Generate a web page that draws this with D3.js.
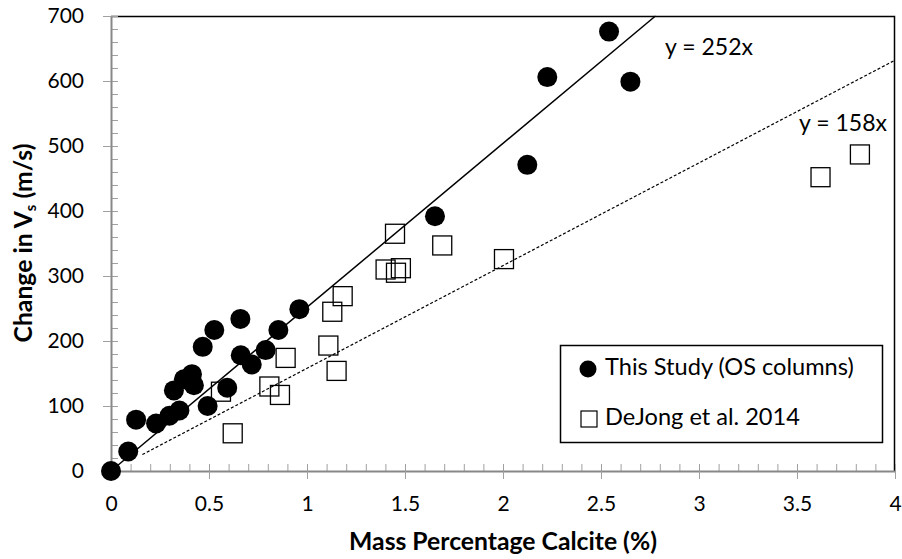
<!DOCTYPE html>
<html>
<head>
<meta charset="utf-8">
<script src="https://cdn.jsdelivr.net/npm/d3@7"></script>
<style>
  body { margin: 0; background: #fff; }
  text { font-family: Lato, "Liberation Sans", sans-serif; fill: #000; }
</style>
</head>
<body>
<div id="chart-area"></div>
<script>
// data
var studyX = [0, 0.088, 0.128, 0.23, 0.298, 0.349, 0.321, 0.372, 0.413, 0.423, 0.468, 0.527, 0.493, 0.593,
    0.66, 0.662, 0.718, 0.789, 0.854, 0.961, 1.653, 2.124, 2.226, 2.541, 2.65];
var studyY = [0, 30, 79, 73, 85, 93, 124, 141, 149, 132, 191, 217, 100, 128,
    234, 178, 164, 186, 217, 249, 392, 471, 606, 676, 599];

var dejongX = [0.621, 0.561, 0.808, 0.862, 0.891, 1.109, 1.151, 1.129, 1.182, 1.449, 1.401, 1.479, 1.454,
    1.69, 2.005, 3.62, 3.821];
var dejongY = [58, 122, 130, 117, 174, 193, 154, 245, 269, 365, 310, 312, 305,
    347, 326, 452, 487];

var slopes = [252, 158];
var fitRange = [[0, 700 / 252], [0.16, 4]];
var fitLabels = ["y = 252x", "y = 158x"];
var legendLabels = ["This Study (OS columns)", "DeJong et al. 2014"];

var xTicks = [0, 0.5, 1, 1.5, 2, 2.5, 3, 3.5, 4];
var yTicks = [0, 100, 200, 300, 400, 500, 600, 700];

var margin = { left: 111, right: 7, top: 16, bottom: 88 };
var width = 902 - margin.left - margin.right,
    height = 559 - margin.top - margin.bottom;

var svg = d3.select("#chart-area").append("svg")
    .attr("width", 902)
    .attr("height", 559);

var g = svg.append("g").attr("transform", "translate(" + margin.left + ", " + margin.top + ")");

var x = d3.scaleLinear().domain([0, 4]).range([0, width]);
var y = d3.scaleLinear().domain([0, 700]).range([height, 0]);

// shrink/grow a text node's font so it spans the given width
function fitWidth(sel, w) {
    var fs = parseFloat(sel.attr("font-size"));
    var len = sel.node().getComputedTextLength();
    sel.attr("font-size", (fs * w / len).toFixed(2) + "px");
    return fs * w / len;
}

// plot border (top and right)
g.append("path")
    .attr("d", "M0,0.5H" + (width - 0.5) + "V" + height)
    .attr("fill", "none")
    .attr("stroke", "#000")
    .attr("stroke-width", 1.5);

// minor ticks (inside)
var xMinor = d3.range(0, 41).map((d) => d / 10);
g.append("g")
    .attr("transform", "translate(0, " + height + ")")
    .call(d3.axisTop(x).tickValues(xMinor).tickSize(7).tickFormat(""))
    .call((s) => { s.select(".domain").remove(); s.selectAll("line").attr("stroke", "#a0a0a0"); });
var yMinor = d3.range(0, 36).map((d) => d * 20);
g.append("g")
    .call(d3.axisRight(y).tickValues(yMinor).tickSize(7).tickFormat(""))
    .call((s) => { s.select(".domain").remove(); s.selectAll("line").attr("stroke", "#a0a0a0"); });

// major axes
var bottomAxis = d3.axisBottom(x).tickValues(xTicks).tickSizeInner(8).tickSizeOuter(0)
    .tickPadding(17).tickFormat(d3.format(""));
g.append("g")
    .attr("class", "x axis")
    .attr("transform", "translate(0, " + height + ")")
    .call(bottomAxis)
    .call((s) => {
        s.select(".domain").attr("stroke", "#888").attr("stroke-width", 2);
        s.selectAll("line").attr("stroke", "#a0a0a0");
        s.selectAll("text").attr("font-size", "21px").style("font-family", "Lato, sans-serif");
    });

var leftAxis = d3.axisLeft(y).tickValues(yTicks).tickSizeInner(8).tickSizeOuter(0).tickPadding(19);
g.append("g")
    .attr("class", "y axis")
    .call(leftAxis)
    .call((s) => {
        s.select(".domain").attr("stroke", "#888").attr("stroke-width", 2);
        s.selectAll("line").attr("stroke", "#a0a0a0");
        s.selectAll("text").attr("font-size", "21px").style("font-family", "Lato, sans-serif");
    });

// trend lines
var line = d3.line().x((d) => x(d[0])).y((d) => y(d[1]));
slopes.forEach((m, i) => {
    var pts = fitRange[i].map((v) => [v, m * v]);
    g.append("path")
        .attr("d", line(pts))
        .attr("fill", "none")
        .attr("stroke", "#000")
        .attr("stroke-width", i == 0 ? 1.5 : 1.2)
        .attr("stroke-dasharray", i == 0 ? null : "3,2");
});

// DeJong squares
var dejong = dejongX.map((d, i) => [d, dejongY[i]]);
g.selectAll("rect.dj").data(dejong).enter().append("rect")
    .attr("class", "dj")
    .attr("x", (d) => x(d[0]) - 9.5)
    .attr("y", (d) => y(d[1]) - 9.5)
    .attr("width", 19)
    .attr("height", 19)
    .attr("fill", "none")
    .attr("stroke", "#000")
    .attr("stroke-width", 1.3);

// this study circles
var study = studyX.map((d, i) => [d, studyY[i]]);
g.selectAll("circle.st").data(study).enter().append("circle")
    .attr("class", "st")
    .attr("cx", (d) => x(d[0]))
    .attr("cy", (d) => y(d[1]))
    .attr("r", 10)
    .attr("fill", "#000");

// trend labels
var t1 = svg.append("text").attr("x", 665).attr("y", 55).attr("font-size", "24px").text(fitLabels[0]);
var tfs = fitWidth(t1, 88);
svg.append("text").attr("x", 887).attr("y", 131).attr("font-size", tfs + "px")
    .attr("text-anchor", "end").text(fitLabels[1]);

// legend
var legend = svg.append("g").attr("transform", "translate(560,345)");
legend.append("rect")
    .attr("x", 0.5).attr("y", 0.5)
    .attr("width", 322).attr("height", 97)
    .attr("fill", "#fff").attr("stroke", "#000").attr("stroke-width", 1.5);
legend.append("circle").attr("cx", 28).attr("cy", 24).attr("r", 8.5).attr("fill", "#000");
legend.append("rect").attr("x", 21).attr("y", 66).attr("width", 16).attr("height", 16)
    .attr("fill", "none").attr("stroke", "#000").attr("stroke-width", 1.2);
var lt = legendLabels.map((t, i) => legend.append("text")
    .attr("x", 45)
    .attr("y", 30 + i * 50)
    .attr("font-size", "24px")
    .text(t));
var lfs = fitWidth(lt[1], 195);
lt[0].attr("font-size", lfs + "px");

// X Label
var xl = svg.append("text")
    .attr("x", 503)
    .attr("y", 550)
    .attr("font-size", "24px")
    .attr("font-weight", "bold")
    .attr("text-anchor", "middle")
    .text("Mass Percentage Calcite (%)");
var afs = fitWidth(xl, 308);

// Y Label
var yl = svg.append("text")
    .attr("transform", "translate(32, 243) rotate(-90)")
    .attr("font-size", afs + "px")
    .attr("font-weight", "bold")
    .attr("text-anchor", "middle");
yl.append("tspan").text("Change in V");
yl.append("tspan").attr("font-size", (afs * 0.6) + "px").attr("dy", 4).text("s");
yl.append("tspan").attr("dy", -4).text(" (m/s)");
</script>
</body>
</html>
